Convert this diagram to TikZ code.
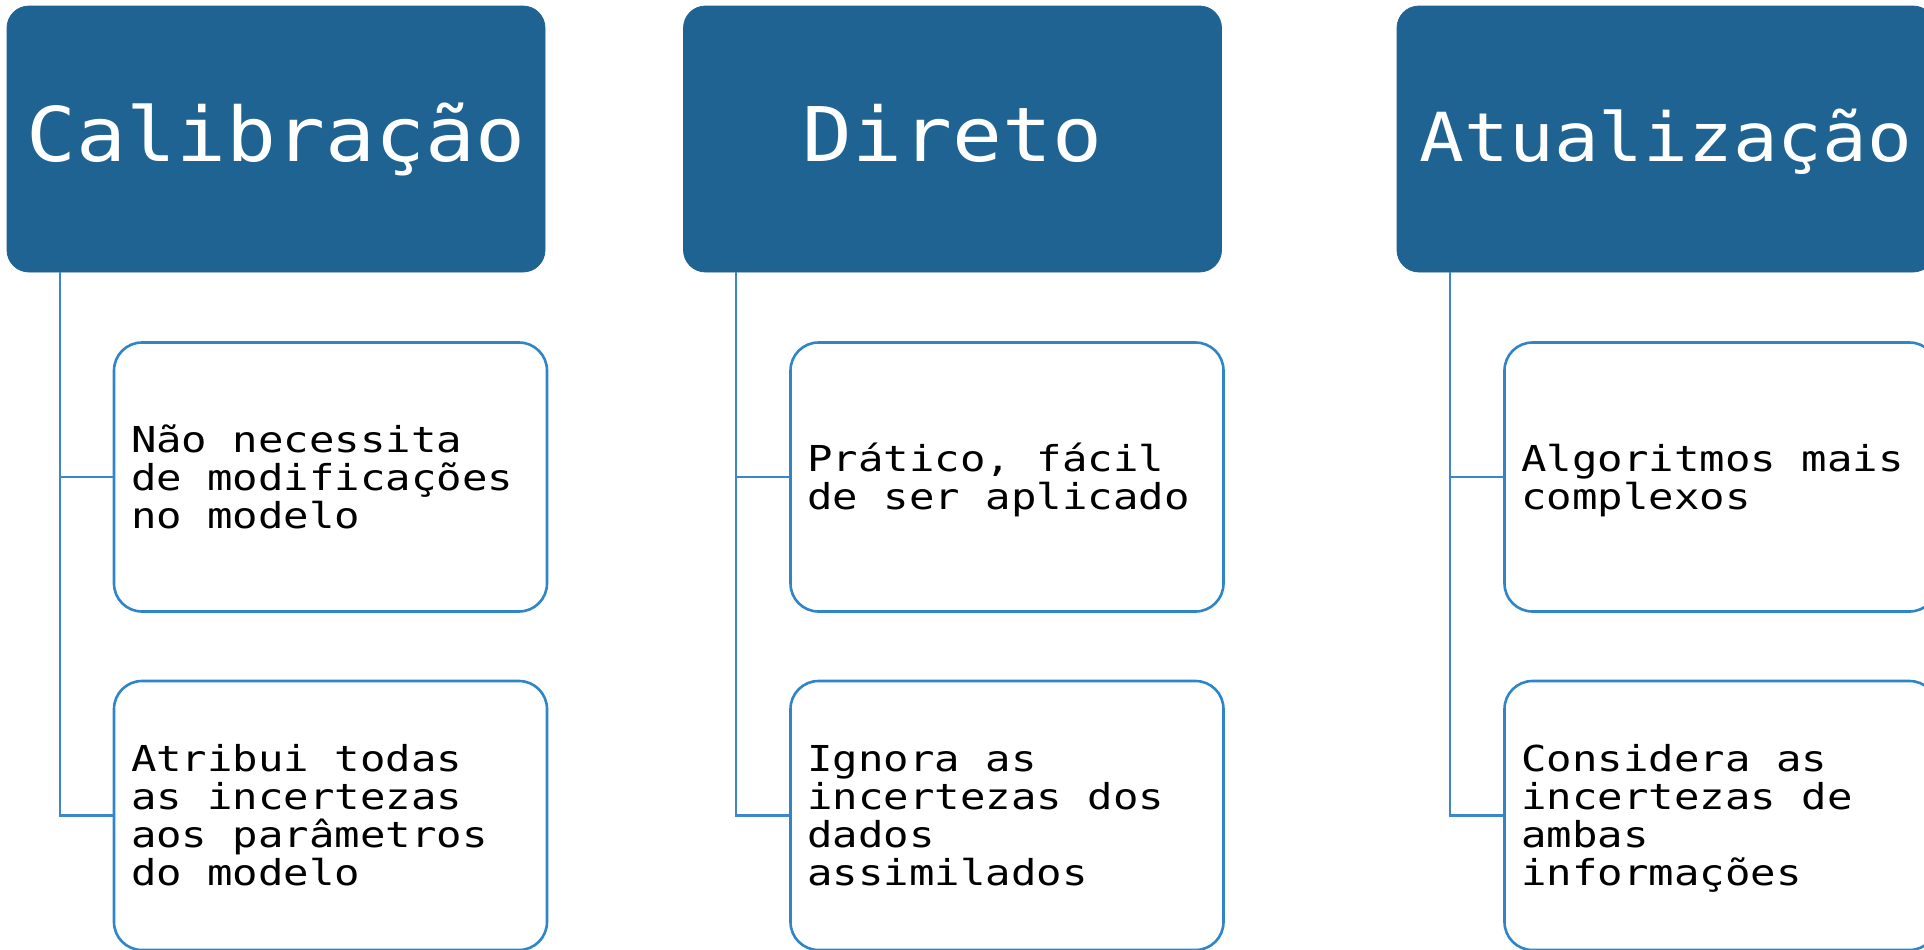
\documentclass[tikz,border=0pt]{standalone}
\usepackage{fontspec}
\newfontfamily\hfont[FakeStretch=1.1]{DejaVu Sans Mono}
\newfontfamily\cfont[FakeStretch=1.185]{DejaVu Sans Mono}
\newcommand\fixspace{\spaceskip=\fontcharwd\font 97\relax\xspaceskip=\fontcharwd\font 97\relax}
\definecolor{hdr}{RGB}{31,99,146}
\definecolor{bdr}{RGB}{46,134,200}
\definecolor{lnk}{RGB}{59,135,201}
\begin{document}
\begin{tikzpicture}[x=0.5pt,y=-0.5pt,
  header/.style={rectangle, rounded corners=11pt, fill=hdr, draw=hdr, minimum width=269pt, minimum height=133pt, inner sep=0pt, text=white, text height=30pt, text depth=8pt},
  hbig/.style={font=\hfont\fontsize{37.7}{40}\selectfont},
  hsmall/.style={font=\hfont\fontsize{33.8}{36}\selectfont},
  item/.style={rectangle, rounded corners=14pt, draw=bdr, line width=1.3pt, fill=white, minimum width=216.5pt, minimum height=134.5pt, inner xsep=8.5pt, inner ysep=0pt, text width=199.5pt, align=left, text height=13pt, font=\cfont\fontsize{17.85}{19}\selectfont, execute at begin node=\fixspace},
  two/.style={text depth=19pt},
  three/.style={text depth=38pt},
  four/.style={text depth=57pt},
  link/.style={draw=lnk, line width=1.1pt}]
\useasboundingbox (0,0) rectangle (1924,949);
\clip (0,0) rectangle (1924,949);
% headers
\node[header,hbig] (h1) at (276,139) {Calibração};
\node[header,hbig] (h2) at (952.5,139) {Direto};
\node[header,hsmall] (h3) at (1666,139) {Atualização};
% items
\node[item,three] (c11) at (330.5,477) {Não necessita\\de modificações\\no modelo};
\node[item,four] (c12) at (330.5,815.5) {Atribui todas\\as incertezas\\aos parâmetros\\do modelo};
\node[item,two] (c21) at (1007,477) {Prático, fácil\\de ser aplicado};
\node[item,four] (c22) at (1007,815.5) {Ignora as\\incertezas dos\\dados\\assimilados};
\node[item,two] (c31) at (1721,477) {Algoritmos mais\\complexos};
\node[item,four] (c32) at (1721,815.5) {Considera as\\incertezas de\\ambas\\informações};
% connectors
\coordinate (t1) at ([xshift=26.5pt]h1.south west);
\coordinate (t2) at ([xshift=26.5pt]h2.south west);
\coordinate (t3) at ([xshift=26.5pt]h3.south west);
\draw[link] (t1) |- (c12.west);
\draw[link] (t1 |- c11.west) -- (c11.west);
\draw[link] (t2) |- (c22.west);
\draw[link] (t2 |- c21.west) -- (c21.west);
\draw[link] (t3) |- (c32.west);
\draw[link] (t3 |- c31.west) -- (c31.west);
\end{tikzpicture}
\end{document}
